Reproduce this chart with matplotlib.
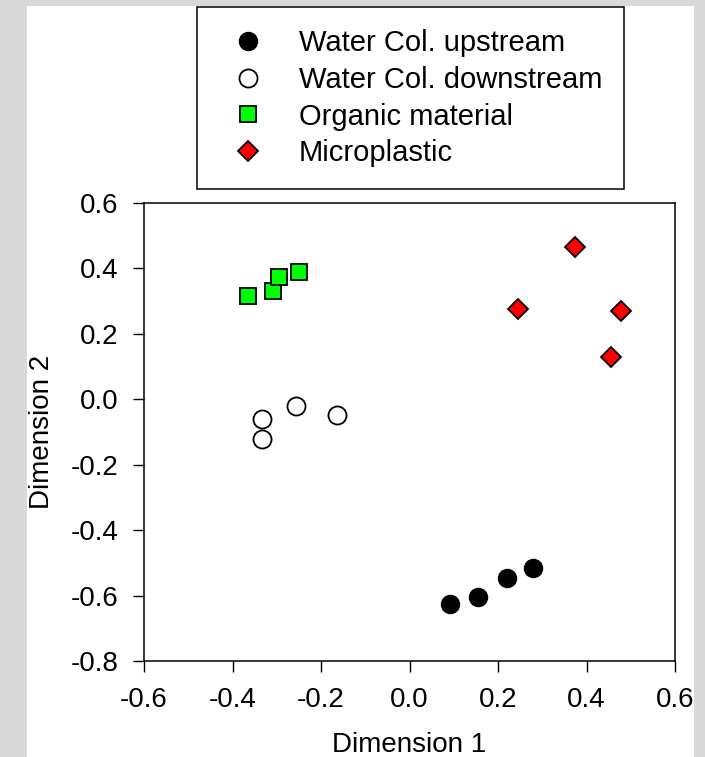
import matplotlib
matplotlib.use("Agg")
import matplotlib.pyplot as plt
from matplotlib.patches import Rectangle

plt.rcParams['font.family'] = ['Liberation Sans', 'DejaVu Sans']
plt.rcParams['font.size'] = 20

# Data
up_x = [0.092, 0.155, 0.220, 0.278]
up_y = [-0.626, -0.604, -0.546, -0.515]
down_x = [-0.334, -0.334, -0.257, -0.164]
down_y = [-0.061, -0.122, -0.020, -0.049]
org_x = [-0.364, -0.309, -0.294, -0.250]
org_y = [0.315, 0.331, 0.375, 0.389]
mp_x = [0.375, 0.245, 0.477, 0.455]
mp_y = [0.466, 0.275, 0.271, 0.130]

labels = ["Water Col. upstream", "Water Col. downstream",
          "Organic material", "Microplastic"]
xticks = [-0.6, -0.4, -0.2, 0.0, 0.2, 0.4, 0.6]
yticks = [-0.8, -0.6, -0.4, -0.2, 0.0, 0.2, 0.4, 0.6]

W, H = 705, 757
fig = plt.figure(figsize=(W / 100, H / 100), dpi=100)
fig.patch.set_facecolor('#d9d9d9')
fig.patches.append(Rectangle((27 / W, 0), (694 - 27) / W, (H - 6) / H,
                             transform=fig.transFigure, facecolor='white',
                             edgecolor='none', zorder=-10))

ax_l, ax_r, ax_t, ax_b = 144, 675, 203, 661
ax = fig.add_axes([ax_l / W, (H - ax_b) / H, (ax_r - ax_l) / W, (ax_b - ax_t) / H])
ax.set_zorder(1)
ax.set_facecolor('white')

h1, = ax.plot(up_x, up_y, 'o', ms=13, mfc='black', mec='black', mew=1.0, ls='none')
h2, = ax.plot(down_x, down_y, 'o', ms=13, mfc='white', mec='black', mew=1.3, ls='none')
h3, = ax.plot(org_x, org_y, 's', ms=11.5, mfc='#00ff00', mec='black', mew=1.3, ls='none')
h4, = ax.plot(mp_x, mp_y, 'D', ms=10.5, mfc='#ff0000', mec='black', mew=1.3, ls='none')

ax.set_xlim(-0.6, 0.6)
ax.set_ylim(-0.8, 0.6)
ax.set_xticks(xticks)
ax.set_yticks(yticks)
ax.set_xticklabels([f"{v:.1f}" for v in xticks])
ax.set_yticklabels([f"{v:.1f}" for v in yticks])
ax.tick_params(direction='out', length=8, width=1, pad=10.5, labelsize=20,
               top=False, right=False)
for s in ax.spines.values():
    s.set_linewidth(1.1)

ax.set_xlabel("Dimension 1", fontsize=20)
ax.set_ylabel("Dimension 2", fontsize=20)
ax.xaxis.set_label_coords(0.5, -0.155)
ax.yaxis.set_label_coords(-0.168, 0.5)

leg = fig.legend([h1, h2, h3, h4], labels, loc='upper left',
                 bbox_to_anchor=(196.7 / W, 1 - 7.3 / H), borderaxespad=0,
                 frameon=True, fancybox=False, shadow=False, fontsize=21,
                 borderpad=0.75, handlelength=2.0, handletextpad=0.75,
                 labelspacing=0.3, framealpha=1)
leg.get_frame().set_edgecolor('black')
leg.get_frame().set_linewidth(1.1)

fig.savefig("out.png", dpi=100, facecolor=fig.get_facecolor())
